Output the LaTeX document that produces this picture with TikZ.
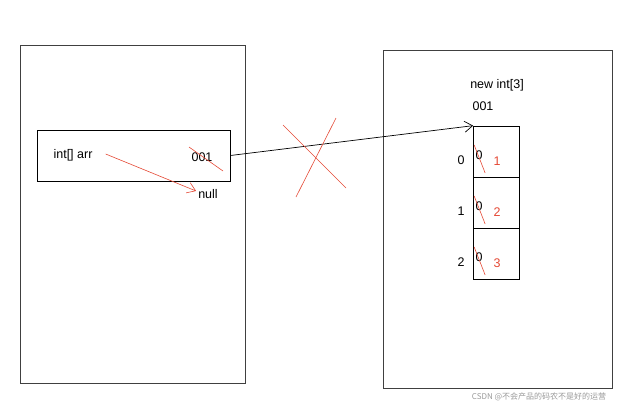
\documentclass[tikz,border=0pt]{standalone}
\usepackage{fontspec}
\setmainfont{Liberation Sans}
\newfontfamily\cjk{Noto Sans CJK SC}
\usetikzlibrary{arrows.meta,calc}
\definecolor{strike}{RGB}{228,72,52}
\tikzset{
  frame/.style={draw=black!75, line width=0.8pt},
  cell/.style={draw, line width=0.7pt, minimum width=46pt, minimum height=51pt, inner sep=0pt},
  txt/.style={inner sep=1pt, font=\fontsize{12.5}{14}\selectfont},
  fix/.style={draw=strike, line width=0.6pt},
  barb/.style={-{Straight Barb[length=8pt,width=11pt]}},
}

\begin{document}
\begin{tikzpicture}[x=1pt,y=-1pt]
  \useasboundingbox (0,0) rectangle (634,410);

  % stack
  \draw[frame] (20,45) rectangle (245,383);
  \node[draw, line width=0.7pt, minimum width=193pt, minimum height=51pt] (var) at (133.5,155.5) {};
  \node[txt] (arr) at (73,155) {int[] arr};
  \node[txt] (addr) at (202,157) {001};
  \node[txt] (null) at (208,194) {null};
  \draw[fix] (189,147) -- (223,171);
  \draw[fix, barb] ($(arr.east)+(12,-1)$) -- ($(null.west)+(-1,-3)$);

  % heap
  \draw[frame] (383,50) rectangle (612,388);
  \node[txt] (new) at (497,85) {new int[3]};
  \node[txt] (ref) at (483,106) {001};
  \foreach \i/\v in {0/1,1/2,2/3} {
    \node[cell] (c\i) at (496.5,151.5+51*\i) {};
    \node[txt] (idx\i) at ($(c\i.west)+(-12,9)$) {\i};
    \node[txt] (old\i) at ($(c\i.west)+(6,3.5)$) {0};
    \node[txt, text=strike] (val\i) at ($(c\i.west)+(24,10)$) {\v};
    \draw[fix] ($(old\i)+(-5,-10)$) -- ($(old\i)+(6,18)$);
  }

  % reference
  \draw[line width=0.7pt, barb] (var.east) -- (c0.north west);
  \draw[fix] (283,125) -- (346,188);
  \draw[fix] (336,118) -- (296,197);

  \node[inner sep=0pt, text=black!40, font=\cjk\fontsize{8}{9}\selectfont] (mark) at (539,397) {CSDN @不会产品的码农不是好的运营};
\end{tikzpicture}
\end{document}
